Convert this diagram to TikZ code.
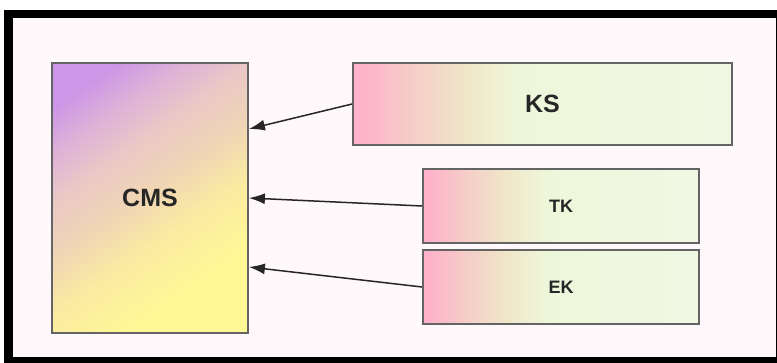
\documentclass[tikz,border=0pt]{standalone}
\usepackage{fontspec}
\setmainfont{Liberation Sans}
\usetikzlibrary{arrows.meta,shadings}
\definecolor{bgin}{RGB}{254,248,250}
\definecolor{edge}{RGB}{100,100,100}
\definecolor{pk}{RGB}{255,178,202}
\definecolor{pk2}{RGB}{245,206,200}
\definecolor{md}{RGB}{240,230,200}
\definecolor{gr}{RGB}{238,246,218}
\definecolor{gr2}{RGB}{240,248,228}
\definecolor{cmstop}{RGB}{205,150,230}
\definecolor{cmsup2}{RGB}{222,178,215}
\definecolor{cmsup}{RGB}{234,200,198}
\definecolor{cmsmid}{RGB}{240,214,180}
\definecolor{cmslow}{RGB}{250,234,162}
\definecolor{cmsbot}{RGB}{255,247,150}
\pgfdeclarehorizontalshading{pinkgreen}{100bp}{color(0bp)=(pk); color(26bp)=(pk); color(33bp)=(pk2); color(40bp)=(md); color(47bp)=(gr); color(75bp)=(gr2); color(100bp)=(gr2)}
\pgfdeclareverticalshading{cmsshade}{100bp}{color(0bp)=(cmsbot); color(30bp)=(cmsbot); color(42bp)=(cmslow); color(51bp)=(cmsmid); color(61bp)=(cmsup); color(69bp)=(cmsup2); color(77bp)=(cmstop); color(100bp)=(cmstop)}
\tikzset{
  box/.style={draw=edge, line width=1.8pt, shading=pinkgreen, text=black!85, inner sep=0pt},
  cmsbox/.style={draw=edge, line width=1.8pt, shading=cmsshade, shading angle=35, font=\bfseries\fontsize{25}{28}\selectfont, text=black!85},
  arr/.style={line width=1.5pt, black!85, -{Latex[length=16pt,width=11pt]}}
}
\begin{document}
\begin{tikzpicture}[x=1pt,y=-1pt]
\useasboundingbox (0,0) rectangle (777,363);
\fill[white] (0,0) rectangle (777,363);
\fill[black] (4,10) rectangle (777,363);
\fill[bgin] (13,18) rectangle (776,357);
\node[cmsbox, minimum width=196pt, minimum height=270pt] (CMS) at (150,198) {CMS};
\node[box, minimum width=379pt, minimum height=82pt, font=\bfseries\fontsize{25}{28}\selectfont] (KS) at (542.5,104) {KS};
\node[box, minimum width=276pt, minimum height=74pt, font=\bfseries\fontsize{18}{20}\selectfont] (TK) at (561,206) {TK};
\node[box, minimum width=276pt, minimum height=74pt, font=\bfseries\fontsize{18}{20}\selectfont] (EK) at (561,287) {EK};
\draw[arr] (KS.west) -- ([yshift=69pt]CMS.east);
\draw[arr] (TK.west) -- (CMS.east);
\draw[arr] (EK.west) -- ([yshift=-69pt]CMS.east);
\end{tikzpicture}
\end{document}
